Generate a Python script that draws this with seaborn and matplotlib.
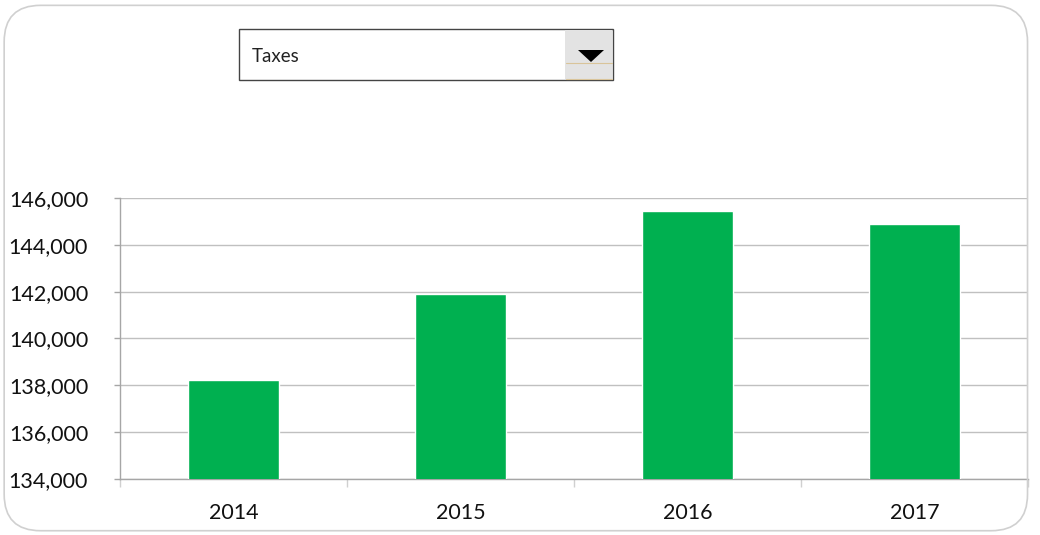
import matplotlib
matplotlib.use("Agg")
import matplotlib.pyplot as plt
import seaborn as sns
import pandas as pd
import numpy as np
from matplotlib.patches import FancyBboxPatch, Rectangle, Polygon
from matplotlib.ticker import FuncFormatter, FixedLocator

years = ['2014', '2015', '2016', '2017']
taxes = [138210, 141885, 145430, 144900]
selected = 'Taxes'

sns.set_theme(style='white')
plt.rcParams['font.family'] = ['Lato', 'DejaVu Sans']

df = pd.DataFrame({'Year': years, 'Value': taxes})

fig = plt.figure(figsize=(10.4, 5.35), dpi=100)
ax = fig.add_axes([0.1154, 0.1047, 0.8730, 0.5252])

sns.barplot(data=df, x='Year', y='Value', color='#00B050', width=0.4,
            saturation=1, ax=ax, zorder=3)

ax.set_ylim(134000, 146000)
ax.set_yticks(np.arange(134000, 146001, 2000))
ax.yaxis.set_major_formatter(FuncFormatter(lambda v, p: f'{int(v):,}'))
ax.set_xlim(-0.5, len(years) - 0.5)
ax.set_xlabel('')
ax.set_ylabel('')

ax.grid(axis='y', color='#c0c0c0', linewidth=1.0, zorder=0)
ax.set_axisbelow(True)
for s in ['top', 'right']:
    ax.spines[s].set_visible(False)
for s in ['left', 'bottom']:
    ax.spines[s].set_color('#a6a6a6')
    ax.spines[s].set_linewidth(1.0)

ax.tick_params(axis='y', which='major', length=4, width=1, color='#a6a6a6',
               direction='out', pad=19, labelsize=15.5, labelcolor='#111111', left=True)
ax.xaxis.set_minor_locator(FixedLocator(np.arange(-0.5, len(years), 1.0)))
ax.tick_params(axis='x', which='major', length=0, pad=17, labelsize=15.5, labelcolor='#111111')
ax.tick_params(axis='x', which='minor', length=6, width=1, color='#d0d0d0',
               direction='out', bottom=True)

# rounded chart border
border = FancyBboxPatch((0.004, 0.008), 0.984, 0.982, transform=fig.transFigure,
                        boxstyle='round,pad=0,rounding_size=0.035',
                        facecolor='none', edgecolor='#d0d0d0', linewidth=1.2,
                        mutation_aspect=1040 / 535)
fig.patches.append(border)

# dropdown box
fig.patches.append(Rectangle((239 / 1040, 1 - 80 / 535), 374 / 1040, 51 / 535,
                             transform=fig.transFigure, facecolor='white',
                             edgecolor='#444444', linewidth=1.0))
fig.patches.append(Rectangle((565 / 1040, 1 - 79 / 535), 47 / 1040, 49 / 535,
                             transform=fig.transFigure, facecolor='#e3e3e3',
                             edgecolor='none'))
fig.patches.append(Polygon([(578 / 1040, 1 - 50 / 535), (604 / 1040, 1 - 50 / 535),
                            (591 / 1040, 1 - 62 / 535)], closed=True,
                           transform=fig.transFigure, facecolor='black', edgecolor='none'))
fig.lines.append(plt.Line2D([566 / 1040, 612 / 1040], [1 - 63 / 535, 1 - 63 / 535],
                            transform=fig.transFigure, color='#d9c49a', linewidth=0.8))
fig.lines.append(plt.Line2D([566 / 1040, 612 / 1040], [1 - 79 / 535, 1 - 79 / 535],
                            transform=fig.transFigure, color='#d9c49a', linewidth=0.8))
fig.text(252 / 1040, 1 - 57 / 535, selected, fontsize=13.5, color='#222222',
         va='center', ha='left')

fig.savefig('out.png', dpi=100)
